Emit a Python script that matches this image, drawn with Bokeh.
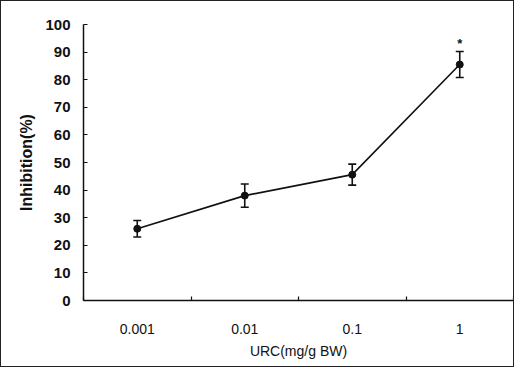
from bokeh.plotting import figure
from bokeh.models import ColumnDataSource, Whisker, TeeHead, FixedTicker
from bokeh.embed import file_html
from bokeh.resources import INLINE
from bokeh.core.properties import value

# data
doses = ["0.001", "0.01", "0.1", "1"]
inhibition = [26.0, 38.0, 45.6, 85.5]
err = [3.0, 4.2, 3.8, 4.7]
marks = ["", "", "", "*"]
y_ticks = [0, 10, 20, 30, 40, 50, 60, 70, 80, 90, 100]

xpos = [i + 0.5 for i in range(len(doses))]
src = ColumnDataSource(dict(
    x=xpos, y=inhibition,
    upper=[m + e for m, e in zip(inhibition, err)],
    lower=[m - e for m, e in zip(inhibition, err)],
    mark=marks,
))

FONT = "Liberation Sans"

p = figure(width=514, height=367, output_backend="svg", toolbar_location=None,
           x_range=(0, len(doses)), y_range=(0, 100),
           min_border_left=82, min_border_right=2, min_border_top=23, min_border_bottom=68)
p.styles = {"border": "1px solid #222"}
p.outline_line_color = None
p.xgrid.visible = False
p.ygrid.visible = False
p.background_fill_color = "white"
p.border_fill_color = "white"

# x axis
p.xaxis.ticker = FixedTicker(ticks=xpos, minor_ticks=list(range(0, len(doses) + 1)))
p.xaxis.major_label_overrides = {x: d for x, d in zip(xpos, doses)}
p.xaxis.major_tick_line_color = None
p.xaxis.minor_tick_in = 4
p.xaxis.minor_tick_out = 0
p.xaxis.minor_tick_line_color = "#111"
p.xaxis.minor_tick_line_width = 1.2
p.xaxis.axis_line_color = "#111"
p.xaxis.axis_line_width = 1.5
p.xaxis.major_label_standoff = 17
p.xaxis.major_label_text_font = FONT
p.xaxis.major_label_text_font_size = "14px"
p.xaxis.major_label_text_color = "#111"
p.xaxis.axis_label = "URC(mg/g BW)"
p.xaxis.axis_label_text_font = FONT
p.xaxis.axis_label_text_font_size = "14px"
p.xaxis.axis_label_text_font_style = "normal"
p.xaxis.axis_label_text_color = "#111"
p.xaxis.axis_label_standoff = 6

# y axis
p.yaxis.ticker = FixedTicker(ticks=y_ticks, minor_ticks=[])
p.yaxis.major_tick_in = 4
p.yaxis.major_tick_out = 0
p.yaxis.major_tick_line_color = "#111"
p.yaxis.major_tick_line_width = 1.2
p.yaxis.axis_line_color = "#111"
p.yaxis.axis_line_width = 1.5
p.yaxis.major_label_standoff = 13
p.yaxis.major_label_text_font = FONT
p.yaxis.major_label_text_font_size = "15px"
p.yaxis.major_label_text_font_style = "bold"
p.yaxis.major_label_text_color = "#111"
p.yaxis.axis_label = "Inhibition(%)"
p.yaxis.axis_label_text_font = FONT
p.yaxis.axis_label_text_font_size = "16px"
p.yaxis.axis_label_text_font_style = "bold"
p.yaxis.axis_label_text_color = "#111"
p.yaxis.axis_label_standoff = 7

# line + points
p.line("x", "y", source=src, line_color="#111", line_width=1.6)
p.scatter("x", "y", source=src, size=7, color="#111")

w = Whisker(base="x", upper="upper", lower="lower", source=src,
            line_color="#111", line_width=1.6,
            upper_head=TeeHead(size=8, line_color="#111", line_width=1.6),
            lower_head=TeeHead(size=8, line_color="#111", line_width=1.6))
p.add_layout(w)

p.text("x", "upper", text="mark", source=src, text_align="center",
       text_baseline="bottom", y_offset=-1, text_font=value(FONT),
       text_font_size="13px", text_color="#111", text_font_style="bold")

open("out.html", "w").write(file_html(p, INLINE))
